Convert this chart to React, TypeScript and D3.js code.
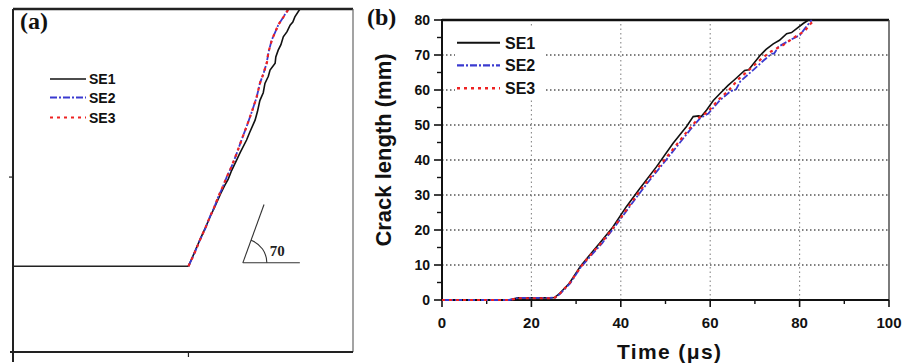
import React from "react";
import * as d3 from "d3";

// ---- panel (a): crack paths in the specimen (mm) ----
const notch: [number, number][] = [
  [0, 25],
  [51.6, 25],
];
const pathSE1: [number, number][] = [
  [51.6, 25], [53.2, 28.6], [55.1, 33], [56.4, 35.8], [58, 39.5], [59.3, 42.2],
  [61, 46], [62.2, 48.4], [63.3, 50.4], [64.3, 52.9], [65.8, 56], [66.8, 58.1],
  [68.7, 61.8], [69.6, 64], [71.2, 67.6], [71.9, 70.1], [72.6, 73.3], [73.6, 75.6],
  [74.1, 78.3], [75.1, 80.4], [75.6, 82.2], [77.1, 84.2], [77.3, 86], [78, 88],
  [78.8, 89.6], [79.5, 91.9], [80.6, 93.4], [81.5, 95.3], [82.3, 96.2], [82.9, 97.7],
  [84.4, 100],
];
const pathSE2: [number, number][] = [
  [51.6, 25], [53.1, 28.2], [55, 32.7], [56.6, 36.1], [57.9, 39.4], [59.2, 42.2],
  [60.4, 45.3], [61.7, 48.1], [62.9, 51.1], [64.4, 54.3], [65.8, 57.9], [67.2, 61.8],
  [68.7, 65.7], [70.3, 70.2], [71.7, 74.4], [72.6, 78.3], [73.7, 81.3], [74.6, 84.2],
  [75.2, 87.6], [76.1, 91], [77.1, 93.2], [78, 95.3], [79.6, 97.8], [81, 100],
];
const pathSE3: [number, number][] = [
  [51.6, 25], [53.2, 28.4], [55.1, 32.9], [56.5, 36], [58, 39.6], [59.1, 42],
  [60.5, 45.5], [61.6, 48], [63, 51.3], [64.3, 54.1], [65.9, 58.2], [67.1, 61.5],
  [68.8, 66], [70.2, 69.9], [71.6, 74.1], [72.7, 78.6], [73.6, 81], [74.7, 84.5],
  [75.1, 87.3], [76.2, 91.2], [77, 93], [78.1, 95.5], [79.5, 97.6], [81.1, 100],
];
const anglePivot: [number, number] = [67.6, 26];
const angleText = "70";

// ---- panel (b): crack length (mm) against time (µs) ----
const seriesNames = ["SE1", "SE2", "SE3"];
const lengthSE1: [number, number][] = [
  [0, 0], [15, 0], [17, 0.6], [24, 0.6], [25.2, 0.7], [26.4, 2], [28.5, 4.8],
  [30.9, 9.5], [33, 12.8], [35.3, 16.3], [38.2, 20.8], [41.2, 26.6], [44.3, 31.9],
  [48, 38.1], [51.7, 44.8], [54.7, 49.6], [56.2, 52.4], [57.4, 52.6], [58, 52.4],
  [59.2, 54.3], [60.7, 57], [62.2, 59], [64, 61.3], [65.5, 63], [67.7, 65.6],
  [68.6, 65.8], [71.1, 69.8], [72.5, 71.6], [74.1, 73.2], [75.5, 74.2], [77.1, 76.1],
  [78.2, 76.4], [79.4, 77.6], [80.8, 79], [82, 80],
];
const lengthSE2: [number, number][] = [
  [0, 0], [15, 0], [17, 0.6], [24, 0.6], [25.4, 0.7], [26.6, 2], [28.7, 4.8],
  [31, 9.3], [33.2, 12.5], [35.8, 16.2], [38.4, 20.5], [40.6, 24.3], [43.6, 29.5],
  [46.5, 34.3], [49.5, 39], [52.5, 43.8], [55.5, 48.6], [57.7, 51.9], [59.6, 53.3],
  [62.2, 57.1], [64.5, 59.6], [65.8, 60.2], [66.7, 62.4], [69.6, 65.7], [72, 68.5],
  [73.8, 70.4], [74.3, 70.4], [75.3, 72.4], [77.9, 74.3], [80.1, 75.7], [81.2, 77.6],
  [82.7, 80],
];
const lengthSE3: [number, number][] = [
  [0, 0], [15, 0], [17, 0.5], [24, 0.5], [25.3, 0.7], [26.5, 2], [28.6, 4.9],
  [31, 9.4], [33.1, 12.7], [35.6, 16.3], [38.3, 20.6], [40.5, 24.4], [43.4, 29.7],
  [46.3, 34.6], [49.3, 39.3], [52.3, 44.1], [55.3, 48.9], [57.5, 52.1], [59.4, 53.7],
  [62, 57.4], [64.2, 60], [66.4, 63.2], [69.2, 66.3], [71.5, 69], [73.6, 71],
  [76.4, 72.9], [79.5, 75.6], [81.1, 76.8], [82.5, 79], [83.4, 80],
];
const xTicksB = [0, 20, 40, 60, 80, 100];
const xMinorB = [10, 30, 50, 70, 90];
const yTicksB = [0, 10, 20, 30, 40, 50, 60, 70, 80];
const yMinorB = [5, 15, 25, 35, 45, 55, 65, 75];

const SANS = "'Liberation Sans', Arial, sans-serif";
const SERIF = "'Liberation Serif', 'Times New Roman', serif";

const styles = [
  { color: "#111", dash: undefined as string | undefined, width: 1.6 },
  { color: "#3a3ad0", dash: "7,2,2,2", width: 1.8 },
  { color: "#ee2222", dash: "3,4", width: 2.2 },
];

export default function App() {
  // panel (a) scales
  const xA = d3.scaleLinear().domain([0, 100]).range([13, 353]);
  const yA = d3.scaleLinear().domain([0, 100]).range([352, 9]);
  const lineA = d3.line<[number, number]>().x((d) => xA(d[0])).y((d) => yA(d[1]));

  // panel (b) scales
  const xB = d3.scaleLinear().domain([0, 100]).range([442, 889]);
  const yB = d3.scaleLinear().domain([0, 80]).range([300, 20]);
  const lineB = d3.line<[number, number]>().x((d) => xB(d[0])).y((d) => yB(d[1]));

  const pathsA = [pathSE1, pathSE2, pathSE3];
  const pathsB = [lengthSE1, lengthSE2, lengthSE3];

  // angle marker
  const px = xA(anglePivot[0]);
  const py = yA(anglePivot[1]);
  const leg = 62;
  const ang = (70 * Math.PI) / 180;
  const r = 24;
  const arc = d3.arc()({
    innerRadius: r,
    outerRadius: r,
    startAngle: Math.PI / 2 - ang,
    endAngle: Math.PI / 2,
  } as any) as string;

  const legendA = [79, 97.5, 117.5];
  const legendB = [42.7, 65.3, 88.3];

  return (
    <svg
      width={910}
      height={363}
      style={{ position: "absolute", left: 0, top: 0, background: "#fff" }}
    >
      <rect x={0} y={0} width={910} height={363} fill="#fff" />

      {/* ===== panel (a) ===== */}
      <path d={lineA(notch) as string} fill="none" stroke="#222" strokeWidth={1.6} />
      {pathsA.map((p, i) => (
        <path
          key={i}
          d={lineA(p) as string}
          fill="none"
          stroke={styles[i].color}
          strokeWidth={styles[i].width}
          strokeDasharray={styles[i].dash}
        />
      ))}
      {/* frame */}
      <line x1={xA(0)} x2={xA(100)} y1={yA(100)} y2={yA(100)} stroke="#222" strokeWidth={2.6} />
      <line x1={xA(100)} x2={xA(100)} y1={yA(100)} y2={yA(0)} stroke="#666" strokeWidth={1.2} />
      <line x1={xA(0)} x2={xA(0)} y1={yA(100)} y2={362} stroke="#222" strokeWidth={2} />
      <line x1={10} x2={xA(100)} y1={yA(0)} y2={yA(0)} stroke="#222" strokeWidth={2} />
      <line x1={xA(51.6)} x2={xA(51.6)} y1={yA(0)} y2={yA(0) + 5} stroke="#222" strokeWidth={1.2} />
      <line x1={xA(0) - 4} x2={xA(0)} y1={yA(51)} y2={yA(51)} stroke="#222" strokeWidth={1.2} />

      {/* angle marker */}
      <line x1={px} x2={px + 57} y1={py} y2={py} stroke="#333" strokeWidth={1.1} />
      <line
        x1={px}
        x2={px + leg * Math.cos(ang)}
        y1={py}
        y2={py - leg * Math.sin(ang)}
        stroke="#333"
        strokeWidth={1.1}
      />
      <path d={arc} transform={`translate(${px},${py})`} fill="none" stroke="#333" strokeWidth={1.1} />
      <text x={px + 27} y={py - 7} fontFamily={SERIF} fontWeight="bold" fontSize={15} fill="#222">
        {angleText}
      </text>

      <text x={20} y={29} fontFamily={SERIF} fontWeight="bold" fontSize={24} fill="#111">
        (a)
      </text>

      {/* legend (a) */}
      {seriesNames.map((n, i) => (
        <g key={n}>
          <line
            x1={50}
            x2={86}
            y1={legendA[i]}
            y2={legendA[i]}
            stroke={styles[i].color}
            strokeWidth={styles[i].width}
            strokeDasharray={styles[i].dash}
          />
          <text x={89} y={legendA[i] + 5} fontFamily={SANS} fontWeight="bold" fontSize={14} fill="#111">
            {n}
          </text>
        </g>
      ))}

      {/* ===== panel (b) ===== */}
      {/* grid */}
      {yTicksB
        .filter((v) => v > 0 && v < 80)
        .map((v) => (
          <line
            key={"gy" + v}
            x1={xB(0)}
            x2={xB(100)}
            y1={yB(v)}
            y2={yB(v)}
            stroke="#555"
            strokeWidth={1.3}
            strokeDasharray="1.5,2.5"
          />
        ))}
      {xTicksB
        .filter((v) => v > 0 && v < 100)
        .map((v) => (
          <line
            key={"gx" + v}
            x1={xB(v)}
            x2={xB(v)}
            y1={yB(0)}
            y2={yB(80)}
            stroke="#888"
            strokeWidth={1.1}
            strokeDasharray="1.5,3"
          />
        ))}

      {/* legend box hides grid */}
      <rect x={455} y={28} width={90} height={70} fill="#fff" />

      {/* frame */}
      <line x1={xB(0)} x2={xB(100)} y1={yB(80)} y2={yB(80)} stroke="#111" strokeWidth={2.4} />
      <line x1={xB(100)} x2={xB(100)} y1={yB(80)} y2={yB(0)} stroke="#444" strokeWidth={1.4} />
      <line x1={xB(0)} x2={xB(0)} y1={yB(80) - 1} y2={yB(0) + 1} stroke="#111" strokeWidth={2} />
      <line x1={xB(0) - 1} x2={xB(100)} y1={yB(0)} y2={yB(0)} stroke="#111" strokeWidth={2} />

      {/* y ticks */}
      {yTicksB.map((v) => (
        <g key={"ty" + v}>
          <line x1={xB(0) - 8} x2={xB(0)} y1={yB(v)} y2={yB(v)} stroke="#111" strokeWidth={1.6} />
          <text
            x={xB(0) - 12}
            y={yB(v) + 5}
            textAnchor="end"
            fontFamily={SANS}
            fontWeight="bold"
            fontSize={14}
            fill="#111"
          >
            {v}
          </text>
        </g>
      ))}
      {yMinorB.map((v) => (
        <line key={"my" + v} x1={xB(0) - 5} x2={xB(0)} y1={yB(v)} y2={yB(v)} stroke="#111" strokeWidth={1.4} />
      ))}

      {/* x ticks */}
      {xTicksB.map((v) => (
        <g key={"tx" + v}>
          <line x1={xB(v)} x2={xB(v)} y1={yB(0)} y2={yB(0) + 7} stroke="#111" strokeWidth={1.6} />
          <text
            x={xB(v)}
            y={328}
            textAnchor="middle"
            fontFamily={SANS}
            fontWeight="bold"
            fontSize={15}
            fill="#111"
          >
            {v}
          </text>
        </g>
      ))}
      {xMinorB.map((v) => (
        <line key={"mx" + v} x1={xB(v)} x2={xB(v)} y1={yB(0)} y2={yB(0) + 4} stroke="#111" strokeWidth={1.4} />
      ))}

      {/* curves drawn over the axes */}
      <defs>
        <clipPath id="plotB">
          <rect x={xB(0) - 2} y={yB(80) - 2} width={xB(100) - xB(0) + 4} height={yB(0) - yB(80) + 4} />
        </clipPath>
      </defs>
      <g clipPath="url(#plotB)">
        {pathsB.map((p, i) => (
          <path
            key={i}
            d={lineB(p) as string}
            fill="none"
            stroke={styles[i].color}
            strokeWidth={styles[i].width}
            strokeDasharray={styles[i].dash}
          />
        ))}
      </g>

      {/* axis titles */}
      <text
        x={669}
        y={359}
        textAnchor="middle"
        fontFamily={SANS}
        fontWeight="bold"
        fontSize={21}
        fill="#111"
        textLength={104}
        lengthAdjust="spacing"
      >
        Time (μs)
      </text>
      <text
        transform="translate(391,150) rotate(-90)"
        textAnchor="middle"
        fontFamily={SANS}
        fontWeight="bold"
        fontSize={22}
        fill="#111"
      >
        Crack length (mm)
      </text>
      <text x={367} y={25} fontFamily={SERIF} fontWeight="bold" fontSize={24} fill="#111">
        (b)
      </text>

      {/* legend (b) */}
      {seriesNames.map((n, i) => (
        <g key={"lb" + n}>
          <line
            x1={457}
            x2={500}
            y1={legendB[i]}
            y2={legendB[i]}
            stroke={styles[i].color}
            strokeWidth={styles[i].width + 0.4}
            strokeDasharray={styles[i].dash}
          />
          <text x={505} y={legendB[i] + 6} fontFamily={SANS} fontWeight="bold" fontSize={16} fill="#111">
            {n}
          </text>
        </g>
      ))}
    </svg>
  );
}
